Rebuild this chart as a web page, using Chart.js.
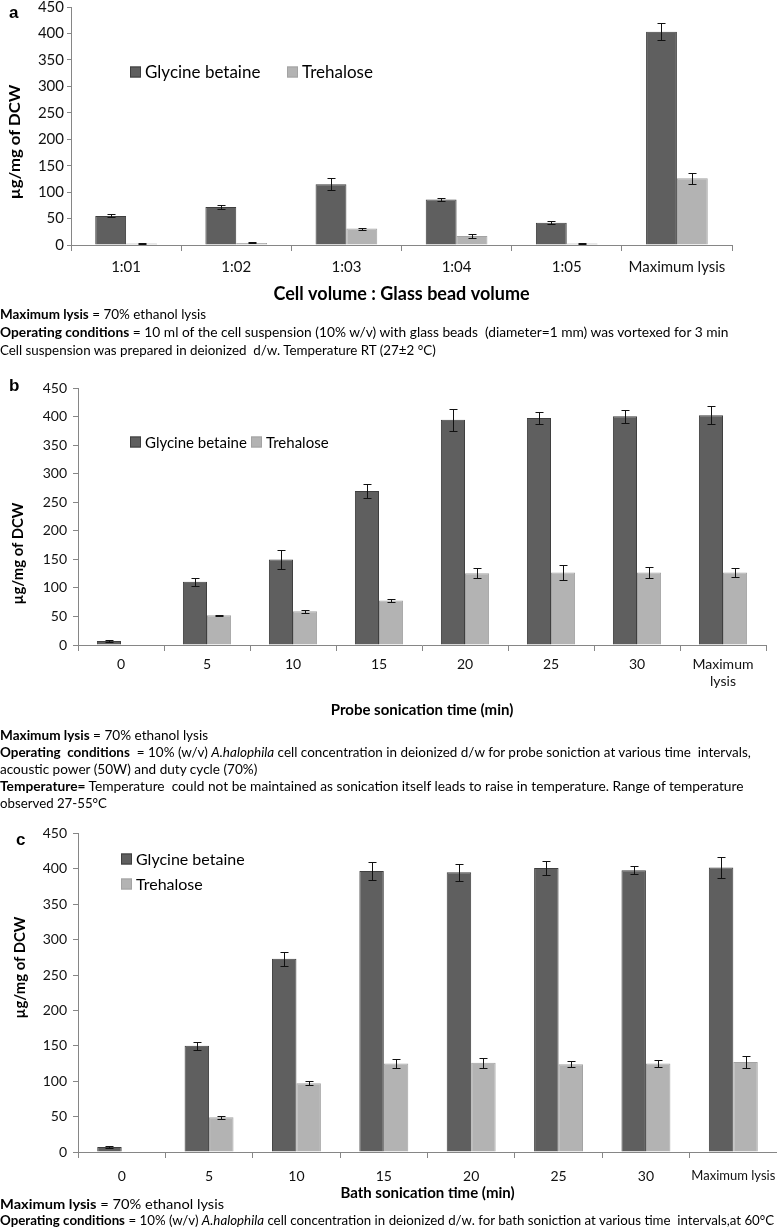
<!DOCTYPE html>
<html>
<head>
<meta charset="utf-8">
<script src="https://cdn.jsdelivr.net/npm/chart.js@4.4.1/dist/chart.umd.min.js"></script>
<style>
html,body{margin:0;padding:0;background:#fff;overflow:hidden;}
body{width:777px;height:1227px;position:relative;font-family:Lato,"Open Sans",sans-serif;color:#000;}
canvas{position:absolute;left:0;}
.t{position:absolute;left:0;white-space:nowrap;transform-origin:0 50%;line-height:1;}
.lab{position:absolute;font:bold 17px "Liberation Sans",Arial,sans-serif;}
.yt{position:absolute;white-space:nowrap;font-weight:bold;line-height:1;}
</style>
</head>
<body>
<canvas id="ca" width="777" height="310" style="top:-5px"></canvas>
<canvas id="cb" width="777" height="345" style="top:374px"></canvas>
<canvas id="cc" width="800" height="383" style="top:819px"></canvas>

<div class="lab" style="left:9px;top:3px">a</div>
<div class="lab" style="left:9px;top:376px">b</div>
<div class="lab" style="left:16px;top:830px">c</div>

<div class="yt" data-w="115" data-cx="14" data-cy="142" style="font-size:16px">µg/mg of DCW</div>
<div class="yt" data-w="102" data-cx="17" data-cy="553" style="font-size:15px">µg/mg of DCW</div>
<div class="yt" data-w="102" data-cx="19" data-cy="967" style="font-size:15px">µg/mg of DCW</div>

<div class="t" data-w="206" style="top:314px;font-size:13px"><b>Maximum lysis</b> = 70% ethanol lysis</div>
<div class="t" data-w="728" style="top:332px;font-size:13px"><b>Operating conditions</b> = 10 ml of the cell suspension (10% w/v) with glass beads&nbsp; (diameter=1 mm) was vortexed for 3 min</div>
<div class="t" data-w="436" style="top:350px;font-size:13px">Cell suspension was prepared in deionized&nbsp; d/w. Temperature RT (27±2 °C)</div>

<div class="t" data-w="208" style="top:735px;font-size:13px"><b>Maximum lysis</b> = 70% ethanol lysis</div>
<div class="t" data-w="751" style="top:752px;font-size:13px"><b>Operating&nbsp; conditions</b>&nbsp; = 10% (w/v) <i>A.halophila</i> cell concentration in deionized d/w for probe soniction at various time&nbsp; intervals,</div>
<div class="t" data-w="257" style="top:769px;font-size:13px">acoustic power (50W) and duty cycle (70%)</div>
<div class="t" data-w="743" style="top:786px;font-size:13px"><b>Temperature=</b> Temperature&nbsp; could not be maintained as sonication itself leads to raise in temperature. Range of temperature</div>
<div class="t" data-w="107" style="top:803px;font-size:13px">observed 27-55°C</div>

<div class="t" data-w="224" style="top:1204px;font-size:13px"><b>Maximum lysis</b> = 70% ethanol lysis</div>
<div class="t" data-w="774" style="top:1220px;font-size:13px"><b>Operating conditions</b> = 10% (w/v) <i>A.halophila</i> cell concentration in deionized d/w. for bath soniction at various time&nbsp; intervals,at 60°C</div>

<script>
// ---------- data ----------
const seriesNames = ['Glycine betaine', 'Trehalose'];

// Panel a
const catsA = ['1:01', '1:02', '1:03', '1:04', '1:05', 'Maximum lysis'];
const glyA = [55, 72, 115, 86, 42, 403];
const glyAErr = [3, 4, 11, 3, 3, 16];
const treA = [3, 4, 31, 17, 3, 126];
const treAErr = [1, 1, 2, 3, 1, 10];

// Panel b
const catsB = ['0', '5', '10', '15', '20', '25', '30', ['Maximum', 'lysis']];
const glyB = [7, 111, 150, 270, 395, 398, 401, 403];
const glyBErr = [1, 7, 16, 13, 19, 11, 11, 16];
const treB = [0, 52, 59, 78, 126, 127, 127, 127];
const treBErr = [0, 1, 3, 2, 9, 13, 9, 8];

// Panel c
const catsC = ['0', '5', '10', '15', '20', '25', '30', 'Maximum lysis'];
const glyC = [7, 150, 273, 397, 395, 401, 398, 402];
const glyCErr = [1, 6, 10, 13, 12, 10, 6, 15];
const treC = [0, 49, 97, 125, 126, 124, 125, 127];
const treCErr = [0, 2, 3, 6, 7, 4, 5, 9];

const yMin = 0, yMax = 450, yStep = 50;

const xTitleA = 'Cell volume : Glass bead volume';
const xTitleB = 'Probe sonication time (min)';
const xTitleC = 'Bath sonication time (min)';

// ---------- styling ----------
const FONT = 'Lato, "Open Sans", sans-serif';
const AXIS = '#868686';
const C_GLY = '#5f5f5f', B_GLY = '#3f3f3f';
const C_TRE = '#b3b3b3', B_TRE = '#a3a3a3';

const errorBars = {
  id: 'errorBars',
  afterDatasetsDraw(chart) {
    const ctx = chart.ctx, y = chart.scales.y;
    ctx.save();
    ctx.strokeStyle = '#111';
    ctx.lineWidth = 1;
    chart.data.datasets.forEach((ds, i) => {
      const meta = chart.getDatasetMeta(i);
      meta.data.forEach((bar, j) => {
        const e = ds.errors ? ds.errors[j] : 0;
        if (!e) return;
        const v = ds.data[j];
        const yt = Math.round(y.getPixelForValue(v + e)) + 0.5;
        const yb = Math.round(y.getPixelForValue(Math.max(v - e, 0))) + 0.5;
        const x = Math.round(bar.x) + 0.5;
        ctx.beginPath();
        ctx.moveTo(x, yt); ctx.lineTo(x, yb);
        ctx.moveTo(x - 4, yt); ctx.lineTo(x + 4, yt);
        ctx.moveTo(x - 4, yb); ctx.lineTo(x + 4, yb);
        ctx.stroke();
      });
    });
    ctx.restore();
  }
};

const boxLegend = {
  id: 'boxLegend',
  afterDraw(chart, args, o) {
    if (!o || !o.items) return;
    const ctx = chart.ctx;
    ctx.save();
    ctx.font = o.size + 'px ' + FONT;
    ctx.textBaseline = 'middle';
    chart.data.datasets.forEach((ds, i) => {
      const p = o.items[i];
      ctx.fillStyle = ds.backgroundColor;
      ctx.fillRect(p[0], p[1] - o.box / 2, o.box, o.box);
      ctx.strokeStyle = ds.borderColor;
      ctx.lineWidth = 1;
      ctx.strokeRect(p[0] + 0.5, p[1] - o.box / 2 + 0.5, o.box - 1, o.box - 1);
      ctx.fillStyle = '#000';
      ctx.fillText(ds.label, p[0] + o.box + 4, p[1] + 1);
    });
    ctx.restore();
  }
};

function makeChart(id, cats, gly, glyErr, tre, treErr, cfg) {
  return new Chart(document.getElementById(id), {
    type: 'bar',
    data: {
      labels: cats,
      datasets: [
        { label: seriesNames[0], data: gly, errors: glyErr, backgroundColor: C_GLY, borderColor: B_GLY, borderWidth: 1 },
        { label: seriesNames[1], data: tre, errors: treErr, backgroundColor: C_TRE, borderColor: B_TRE, borderWidth: 1 }
      ]
    },
    options: {
      responsive: false,
      animation: false,
      devicePixelRatio: 1,
      categoryPercentage: 0.56,
      barPercentage: 1.0,
      layout: { padding: { top: 10, right: cfg.padRight, left: 0, bottom: 0 } },
      plugins: {
        legend: { display: false },
        tooltip: { enabled: false },
        boxLegend: cfg.legend
      },
      scales: {
        x: {
          grid: { display: true, offset: true, drawOnChartArea: false, drawTicks: true, tickLength: 6, color: AXIS },
          border: { display: true, color: AXIS, width: 1 },
          ticks: {
            color: '#111',
            font: (c) => ({ family: FONT, size: (cfg.lastTickSize && c.index === cats.length - 1) ? cfg.lastTickSize : cfg.xTickSize }),
            padding: cfg.xPad, maxRotation: 0, autoSkip: false
          },
          title: { display: true, text: cfg.xTitle, color: '#000', font: { family: FONT, size: cfg.xTitleSize, weight: 'bold' }, padding: { top: 0, bottom: 0 } },
          afterFit(s) { s.height = cfg.xH; }
        },
        y: {
          min: yMin, max: yMax,
          grid: { display: true, drawOnChartArea: false, drawTicks: true, tickLength: cfg.yTick, color: AXIS },
          border: { display: true, color: AXIS, width: 1 },
          ticks: { stepSize: yStep, color: '#111', font: { family: FONT, size: cfg.yTickSize }, padding: cfg.yPad },
          afterFit(s) { s.width = cfg.yW; }
        }
      }
    },
    plugins: [errorBars, boxLegend]
  });
}

makeChart('ca', catsA, glyA, glyAErr, treA, treAErr, {
  padRight: 45, yW: 71, xH: 60, xPad: 7, xTickSize: 15, yTickSize: 15, yTick: 4, yPad: 3,
  xTitle: xTitleA, xTitleSize: 18,
  legend: { size: 17, box: 11, items: [[130, 77], [287, 77]] }
});
makeChart('cb', catsB, glyB, glyBErr, treB, treBErr, {
  padRight: 11, yW: 78, xH: 74, xPad: 5, xTickSize: 14, yTickSize: 14, yTick: 5, yPad: 6,
  xTitle: xTitleB, xTitleSize: 15,
  legend: { size: 15, box: 11, items: [[130, 68], [251, 68]] }
});
makeChart('cc', catsC, glyC, glyCErr, treC, treCErr, {
  padRight: 23, yW: 78, xH: 50, xPad: 10, xTickSize: 14, lastTickSize: 13, yTickSize: 14, yTick: 5, yPad: 6,
  xTitle: xTitleC, xTitleSize: 15,
  legend: { size: 16, box: 11, items: [[121, 40], [121, 65]] }
});

// fit HTML text lines to their measured widths
document.querySelectorAll('.t').forEach(el => {
  const w = el.offsetWidth, tw = +el.dataset.w;
  el.style.transform = 'translateY(-50%) scaleX(' + (tw / w) + ')';
});
document.querySelectorAll('.yt').forEach(el => {
  const w = el.offsetWidth, h = el.offsetHeight, tw = +el.dataset.w;
  el.style.left = (+el.dataset.cx - w / 2) + 'px';
  el.style.top = (+el.dataset.cy - h / 2) + 'px';
  el.style.transform = 'rotate(-90deg) scaleX(' + (tw / w) + ')';
});
</script>
</body>
</html>
